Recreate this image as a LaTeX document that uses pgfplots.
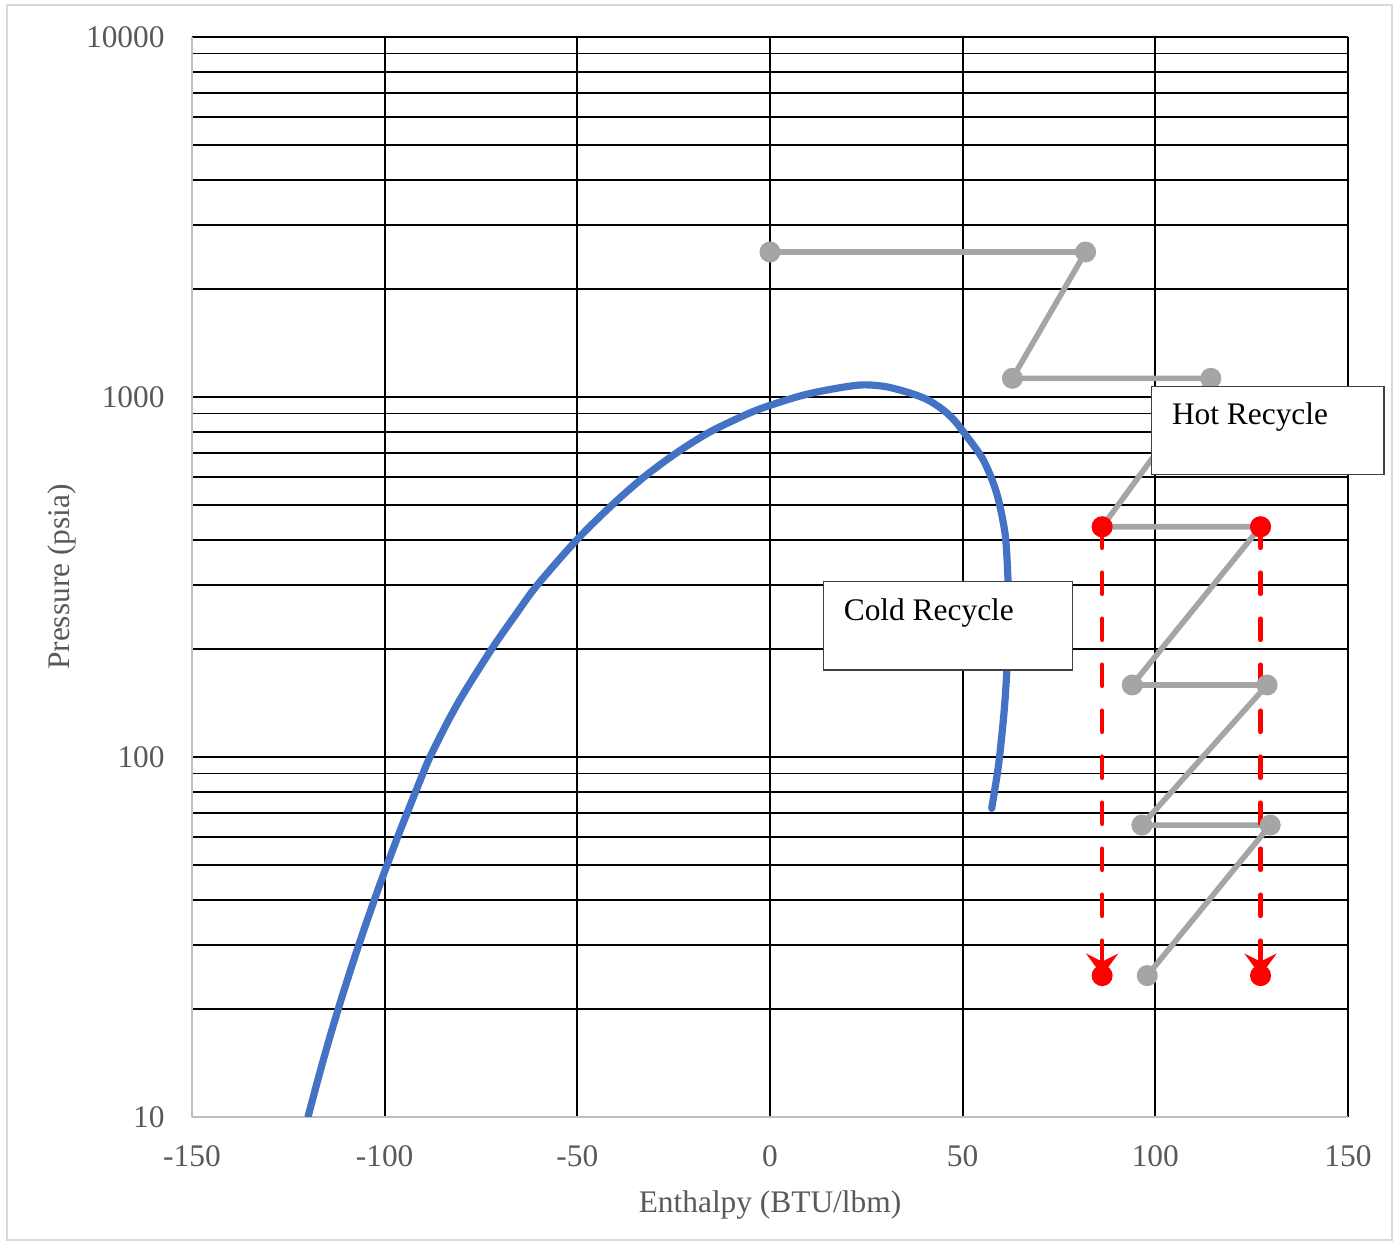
\documentclass[border=0pt]{standalone}
\usepackage{fontspec}
\setmainfont{Liberation Serif}
\usepackage{pgfplots}
\pgfplotsset{compat=1.18}
\usetikzlibrary{arrows.meta}
\definecolor{tgray}{HTML}{595959}
\definecolor{sgray}{HTML}{A5A5A5}
\definecolor{sblue}{HTML}{4472C4}
\definecolor{agray}{HTML}{BFBFBF}
\definecolor{fgray}{HTML}{D9D9D9}
\definecolor{bgray}{HTML}{404040}
\begin{document}
\begin{tikzpicture}
\path[use as bounding box] (0,0) rectangle (696.5pt,621pt);
\draw[fgray, line width=1pt] (3.5pt,0.8pt) rectangle (696pt,618.5pt);
\begin{axis}[
 at={(96pt,62.5pt)}, anchor=south west,
 scale only axis, width=578pt, height=540pt,
 xmin=-150, xmax=150, ymin=10, ymax=10000, ymode=log,
 axis x line*=bottom, axis y line*=left,
 axis line style={agray, line width=1pt},
 xtick={-150,-100,-50,0,50,100,150},
 xticklabels={-150,-100,-50,0,50,100,150},
 ytick={10,100,1000,10000},
 yticklabels={10,100,1000,10000},
 minor ytick={20,30,40,50,60,70,80,90,200,300,400,500,600,700,800,900,2000,3000,4000,5000,6000,7000,8000,9000},
 major tick length=0pt, minor tick length=0pt,
 grid=both,
 major grid style={black, line width=0.9pt},
 minor grid style={black, line width=0.9pt},
 tick label style={font=\fontsize{15.7}{18}\selectfont, text=tgray, inner sep=0pt},
 xticklabel style={anchor=base, yshift=-25pt},
 yticklabel style={anchor=base east, xshift=-13.5pt, yshift=-5.3pt},
 xlabel={Enthalpy (BTU/lbm)}, ylabel={Pressure (psia)},
 label style={font=\fontsize{15.7}{18}\selectfont, text=tgray, inner sep=0pt},
 xlabel style={at={(rel axis cs:0.5,-0.088)}, anchor=base},
 ylabel style={at={(rel axis cs:-0.1125,0.5)}, anchor=center},
]
\addplot[sblue, line width=3.6pt, smooth, line cap=round, line join=round] coordinates {
 (-119.90,10) (-117.35,12.67) (-114.45,16.36) (-111.33,21.13) (-108.01,27.30)
 (-104.51,35.26) (-100.82,45.53) (-96.62,60) (-94.15,70) (-91.99,80)
 (-90.05,90) (-88.24,100) (-83.69,125) (-79.54,150) (-72.17,200)
 (-65.84,250) (-60.44,300) (-50.24,400)
 (-41.08,500) (-32.65,600) (-24.21,700) (-15.57,800) (-5.55,900)
 (0.3,950) (7.8,1006.4) (14.79,1045.7)
 (23.36,1079.7) (29.84,1069.4) (36.33,1025.9) (41.0,981.0) (44.97,920.2)
 (47.75,863.3) (50.16,801.1) (55.35,668.3) (58.83,540.1) (60.99,418.2)
 (61.69,323.8) (61.84,273.0) (61.76,225.3) (61.63,192.0) (61.43,171.1)
 (60.99,144.0) (60.39,121.4) (59.25,94.0) (57.53,72.0)
};
\addplot[sgray, line width=2.8pt, mark=*, mark size=5pt, mark options={solid, fill=sgray, draw=sgray, line width=0.5pt}] coordinates {
 (0,2528) (81.9,2528) (62.9,1127) (114.4,1127) (86.2,436) (127.3,436)
 (94.0,158.5) (129.0,158.5) (96.5,64.7) (129.8,64.7) (97.9,24.7)
};
\addplot[red, line width=2.3pt, dash pattern=on 10.5pt off 12.5pt, line cap=round, mark=*, mark size=5pt, mark options={solid, fill=red, draw=red, line width=0.5pt}, -{Stealth[length=11pt,width=16pt,inset=4pt]}] coordinates {(86.2,436) (86.2,24.7)};
\addplot[red, line width=2.3pt, dash pattern=on 10.5pt off 12.5pt, line cap=round, mark=*, mark size=5pt, mark options={solid, fill=red, draw=red, line width=0.5pt}, -{Stealth[length=11pt,width=16pt,inset=4pt]}] coordinates {(127.3,436) (127.3,24.7)};
\end{axis}
\draw[bgray, line width=0.75pt, fill=white] (575.8pt,383.85pt) rectangle (692pt,427.65pt);
\node[anchor=base west, inner sep=0pt, font=\fontsize{15.7}{18}\selectfont] at (585.8pt,408.5pt) {Hot Recycle};
\draw[bgray, line width=0.75pt, fill=white] (411.7pt,286pt) rectangle (536.2pt,330.2pt);
\node[anchor=base west, inner sep=0pt, font=\fontsize{15.7}{18}\selectfont] at (421.7pt,310.5pt) {Cold Recycle};
\end{tikzpicture}
\end{document}
